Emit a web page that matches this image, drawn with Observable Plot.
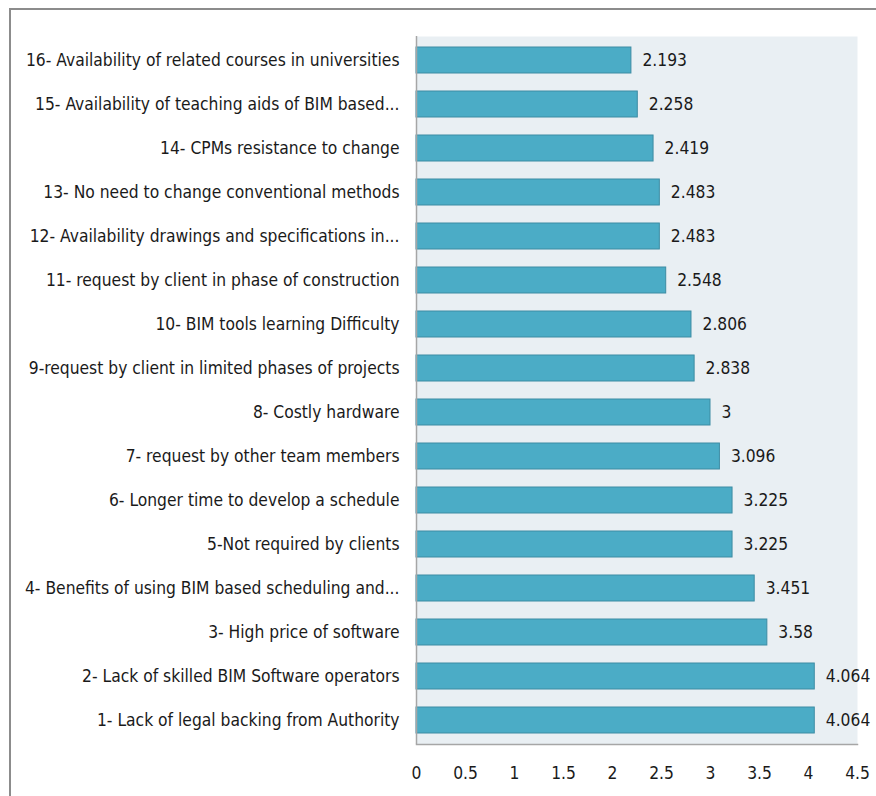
<!DOCTYPE html>
<html>
<head>
<meta charset="utf-8">
<script src="https://cdn.jsdelivr.net/npm/d3@7"></script>
<script src="https://cdn.jsdelivr.net/npm/@observablehq/plot@0.6"></script>
<style>
  html, body { margin: 0; padding: 0; background: #fff; }
  #wrap { position: relative; width: 876px; height: 796px; overflow: hidden; }
  #border { position: absolute; left: 9px; top: 8px; width: 900px; height: 900px;
            border-left: 2px solid #8c8c8c; border-top: 2px solid #8c8c8c; box-sizing: border-box; }
  #chart { position: absolute; left: 0; top: 0; }
  svg { font-family: "Liberation Sans Narrow", "DejaVu Sans Condensed", sans-serif; }
</style>
</head>
<body>
<div id="wrap"><div id="border"></div><div id="chart"></div></div>
<script>
const categories = [
  "16- Availability of related courses in universities",
  "15- Availability of teaching aids of BIM based...",
  "14- CPMs resistance to change",
  "13- No need to change conventional methods",
  "12- Availability drawings and specifications in...",
  "11- request by client in phase of construction",
  "10- BIM tools learning Difficulty",
  "9-request by client in limited phases of projects",
  "8- Costly hardware",
  "7- request by other team members",
  "6- Longer time to develop a schedule",
  "5-Not required by clients",
  "4- Benefits of using BIM based scheduling and...",
  "3- High price of software",
  "2- Lack of skilled BIM Software operators",
  "1- Lack of legal backing from Authority"
];
const values = [2.193, 2.258, 2.419, 2.483, 2.483, 2.548, 2.806, 2.838, 3, 3.096, 3.225, 3.225, 3.451, 3.58, 4.064, 4.064];
const xTicks = [0, 0.5, 1, 1.5, 2, 2.5, 3, 3.5, 4, 4.5];

const data = categories.map((c, i) => ({category: c, value: values[i]}));

const chart = Plot.plot({
  width: 876,
  height: 796,
  marginLeft: 416,
  marginRight: 19,
  marginTop: 36,
  marginBottom: 52,
  style: {fontSize: "17px", color: "#1a1a1a", background: "transparent"},
  x: {domain: [0, 4.5], ticks: xTicks, tickFormat: d => String(d)},
  y: {domain: categories, paddingInner: 0.4, paddingOuter: 0.2},
  marks: [
    Plot.frame({fill: "#e9eff3", stroke: null}),
    Plot.barX(data, {y: "category", x: "value", fill: "#4bacc6", stroke: "#3d8ca3", strokeWidth: 1}),
    Plot.text(data, {y: "category", x: "value", text: d => String(d.value), textAnchor: "start", dx: 11, fontSize: 17.3, fill: "#1a1a1a"}),
    Plot.ruleX([0], {stroke: "#a6a6a6", strokeWidth: 1.5}),
    Plot.frame({anchor: "bottom", stroke: "#a6a6a6", strokeWidth: 1.5}),
    Plot.axisX({ticks: xTicks, tickFormat: d => String(d), tickSize: 0, tickPadding: 22, fontSize: 17.3, label: null}),
    Plot.axisY({tickSize: 0, tickPadding: 17, fontSize: 17.3, label: null})
  ]
});
document.getElementById("chart").appendChild(chart);
</script>
</body>
</html>
